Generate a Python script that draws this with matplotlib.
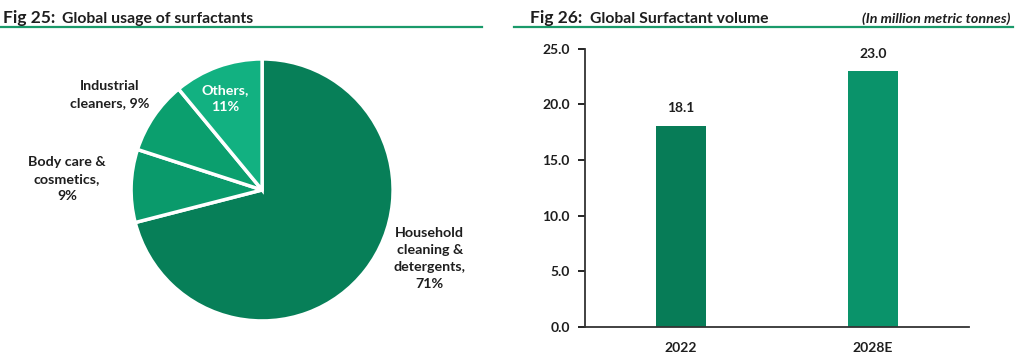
import matplotlib.pyplot as plt
from matplotlib.lines import Line2D

plt.rcParams['font.family'] = ['Lato', 'DejaVu Sans']
plt.rcParams['font.weight'] = 'bold'

# pie data
pie_labels = ["Household\ncleaning &\ndetergents,\n71%", "Body care &\ncosmetics,\n9%",
              "Industrial\ncleaners, 9%", "Others,\n11%"]
pie_shares = [71, 9, 9, 11]
pie_colors = ["#077f58", "#0a9a6b", "#0b9f6e", "#12b181"]

# bar data
years = ["2022", "2028E"]
volume = [18.1, 23.0]
bar_colors = ["#077c57", "#0a936a"]

txt = '#1e1e1e'
fig = plt.figure(figsize=(10.24, 3.59), dpi=100)

# headers
fig.text(0.003, 0.935, "Fig 25:", fontsize=12.5, fontweight='bold', color=txt)
fig.text(0.061, 0.935, "Global usage of surfactants", fontsize=11.3, fontweight='bold', color=txt)
fig.add_artist(Line2D([0.0, 0.471], [0.924, 0.924], color='#1a9a6a', lw=1.6))

fig.text(0.518, 0.935, "Fig 26:", fontsize=12.5, fontweight='bold', color=txt)
fig.text(0.576, 0.935, "Global Surfactant volume", fontsize=11.3, fontweight='bold', color=txt)
fig.text(0.987, 0.935, "(In million metric tonnes)", fontsize=10.3, fontweight='bold',
         style='italic', color=txt, ha='right')
fig.add_artist(Line2D([0.502, 0.989], [0.924, 0.924], color='#1a9a6a', lw=1.6))

# pie
ax1 = fig.add_axes([0.128, 0.106, 0.2559, 0.7298])
wedges, _ = ax1.pie(pie_shares, colors=pie_colors, startangle=90, counterclock=False,
                    wedgeprops=dict(edgecolor='white', linewidth=2.5))
ax1.set_xlim(-1, 1)
ax1.set_ylim(-1, 1)
ax1.set_aspect('equal')
ax1.axis('off')

label_pos = [(1.28, -0.52), (-1.49, 0.08), (-1.16, 0.725), (-0.28, 0.70)]
label_col = [txt, txt, txt, 'white']
for lab, (x, y), c in zip(pie_labels, label_pos, label_col):
    ax1.text(x, y, lab, ha='center', va='center', fontsize=10.3, fontweight='bold',
             color=c, linespacing=1.5, clip_on=False)

# bars
ax2 = fig.add_axes([0.5713, 0.089, 0.375, 0.775])
x = range(len(years))
bars = ax2.bar(x, volume, width=0.26, color=bar_colors)
for xi, v in zip(x, volume):
    ax2.text(xi, v + 1.0, f"{v:.1f}", ha='center', va='bottom', fontsize=10,
             fontweight='bold', color=txt)
ax2.set_xlim(-0.5, 1.5)
ax2.set_ylim(0, 25)
ax2.set_yticks([0, 5, 10, 15, 20, 25])
ax2.set_yticklabels([f"{t:.1f}" for t in [0, 5, 10, 15, 20, 25]])
ax2.set_xticks(list(x))
ax2.set_xticklabels(years)
ax2.tick_params(axis='x', length=0, pad=11, labelsize=10, labelcolor=txt)
ax2.tick_params(axis='y', length=5, width=1.2, pad=6, labelsize=10, labelcolor=txt)
for s in ['top', 'right']:
    ax2.spines[s].set_visible(False)
ax2.spines['left'].set_linewidth(1.3)
ax2.spines['bottom'].set_linewidth(1.3)
ax2.spines['left'].set_color('#333333')
ax2.spines['bottom'].set_color('#333333')

fig.savefig("out.png", dpi=100)
